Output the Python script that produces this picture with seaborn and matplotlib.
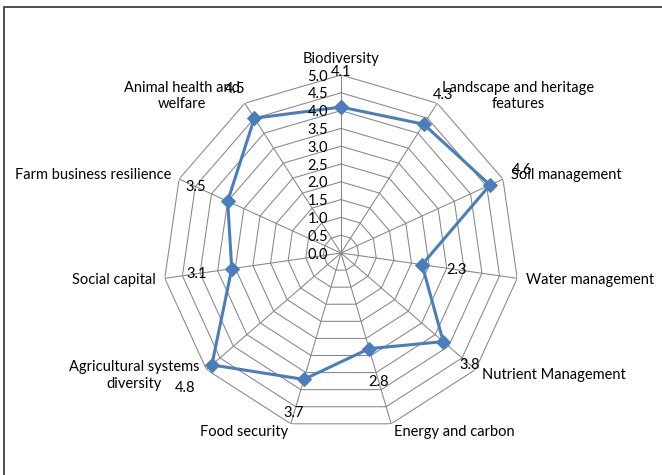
import numpy as np
import pandas as pd
import seaborn as sns
import matplotlib.pyplot as plt
from matplotlib.patches import Rectangle

# --- Data ---
categories = ["Biodiversity", "Landscape and heritage\nfeatures", "Soil management",
              "Water management", "Nutrient Management", "Energy and carbon",
              "Food security", "Agricultural systems\ndiversity", "Social capital",
              "Farm business resilience", "Animal health and\nwelfare"]
scores = [4.1, 4.3, 4.6, 2.3, 3.8, 2.8, 3.7, 4.8, 3.1, 3.5, 4.5]
levels = [0.0, 0.5, 1.0, 1.5, 2.0, 2.5, 3.0, 3.5, 4.0, 4.5, 5.0]

sns.set_theme(style="white")
plt.rcParams['font.family'] = ['Lato', 'DejaVu Sans']

n = len(categories)
angles = [2 * np.pi * i / n for i in range(n)]

df = pd.DataFrame({'angle': angles + angles[:1], 'score': scores + scores[:1]})

fig = plt.figure(figsize=(6.62, 4.75), dpi=100)
ax = fig.add_axes([0.2462, 0.0926, 0.5378, 0.7495], projection='polar')
ax.set_theta_zero_location('N')
ax.set_theta_direction(-1)

grid_col = '#868686'
# polygon gridlines
for lv in levels[1:]:
    ax.plot(angles + angles[:1], [lv] * (n + 1), color=grid_col, lw=0.75, zorder=1)
# spokes
for a in angles:
    ax.plot([a, a], [0, levels[-1]], color=grid_col, lw=0.75, zorder=1)

sns.lineplot(data=df, x='angle', y='score', sort=False, estimator=None, ax=ax,
             color='#4A7EBB', lw=2.2, marker='D', markersize=7,
             markeredgecolor='#4A7EBB', zorder=3)

ax.set_ylim(0, levels[-1])
ax.set_xticks([])
ax.set_yticks([])
ax.grid(False)
ax.spines['polar'].set_visible(False)
ax.set_xlabel('')
ax.set_ylabel('')
ax.patch.set_alpha(0)

px = 0.72  # points per pixel at 100 dpi
fs = 10.5

# radial axis labels
for lv in levels:
    ax.annotate(f"{lv:.1f}", xy=(0, lv), xytext=(-13 * px, -1.5 * px),
                textcoords='offset points', ha='right', va='center',
                fontsize=fs, color='black')

# data labels
for a, v in zip(angles, scores):
    dx, dy = 35 * np.sin(a), 35 * np.cos(a)
    ax.annotate(f"{v:.1f}", xy=(a, v), xytext=(dx * px, dy * px),
                textcoords='offset points', ha='center', va='center',
                fontsize=fs, color='black', zorder=4)

# category labels
for a, c in zip(angles, categories):
    s, co = np.sin(a), np.cos(a)
    if s > 0.1:
        ha = 'left'
    elif s < -0.1:
        ha = 'right'
    else:
        ha = 'center'
    va = 'bottom' if co > 0.95 else 'center'
    ax.annotate(c, xy=(a, levels[-1]), xytext=(9 * s * px, 9 * co * px),
                textcoords='offset points', ha=ha, va=va, multialignment='center',
                fontsize=fs, color='black', linespacing=1.2)

# chart area border
fig.add_artist(Rectangle((4 / 662, -0.1), 1.0, 1 - 7 / 475 + 0.1,
                         transform=fig.transFigure, fill=False,
                         ec='#404040', lw=1.3))

fig.savefig("out.png", dpi=100)
